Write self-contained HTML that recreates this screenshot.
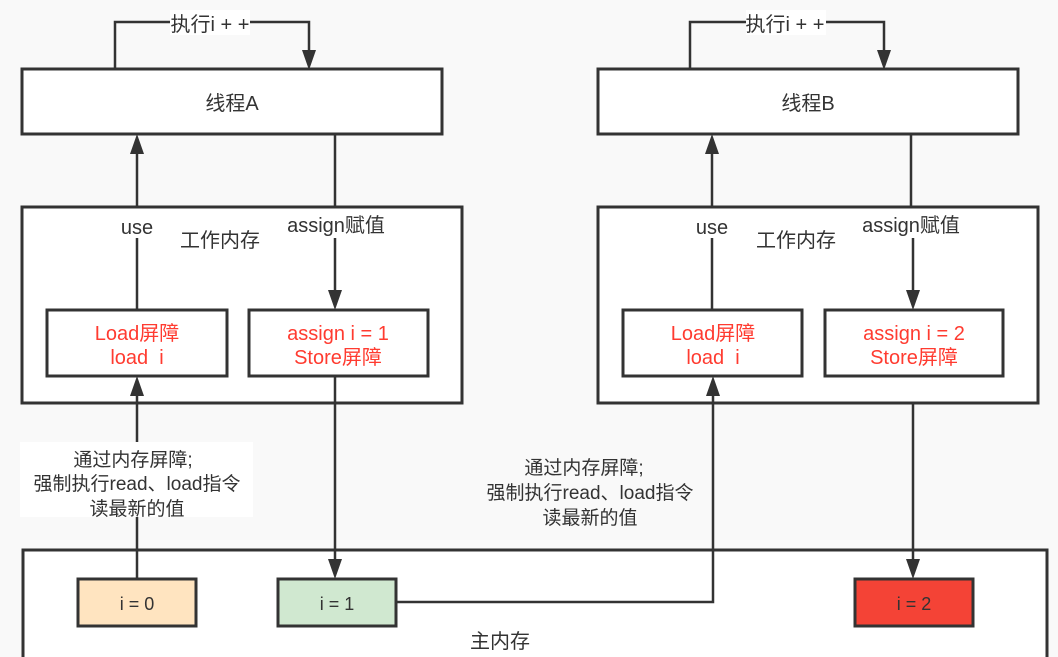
<!DOCTYPE html>
<html><head><meta charset="utf-8"><style>
html,body{margin:0;padding:0;background:#f9f9f9}
svg{display:block}
text{font-family:"Liberation Sans","Noto Sans CJK SC",sans-serif;fill:#333}
.r{fill:#ff3b30}
</style></head><body>
<svg width="1058" height="657" viewBox="0 0 1058 657" xmlns="http://www.w3.org/2000/svg">
<g stroke="#333" stroke-width="3" fill="#fff">
<rect x="23" y="550" width="1024" height="120"/>
<rect x="22" y="69" width="420" height="65"/>
<rect x="598" y="69" width="420" height="65"/>
<rect x="22" y="207" width="440" height="196"/>
<rect x="598" y="207" width="440" height="196"/>
<rect x="47" y="310" width="180" height="66"/>
<rect x="249" y="310" width="179" height="66"/>
<rect x="623" y="310" width="179" height="66"/>
<rect x="825" y="310" width="178" height="66"/>
<rect x="78" y="579" width="118" height="47" fill="#ffe4c0"/>
<rect x="278" y="579" width="118" height="47" fill="#d0e8d0"/>
<rect x="855" y="579" width="118" height="47" fill="#f44336"/>
</g>
<g stroke="#333" stroke-width="2.5" fill="none">
<polyline points="115,69 115,22 309,22 309,56"/>
<polyline points="690,69 690,22 884,22 884,56"/>
<line x1="137" y1="207" x2="137" y2="148"/>
<line x1="137" y1="310" x2="137" y2="238"/>
<line x1="335" y1="134" x2="335" y2="207"/>
<line x1="335" y1="238" x2="335" y2="296"/>
<line x1="712" y1="207" x2="712" y2="148"/>
<line x1="712" y1="310" x2="712" y2="238"/>
<line x1="911" y1="134" x2="911" y2="207"/>
<line x1="913" y1="238" x2="913" y2="296"/>
<line x1="137" y1="579" x2="137" y2="390"/>
<line x1="335" y1="376" x2="335" y2="565"/>
<polyline points="396,602 713,602 713,390"/>
<line x1="913" y1="403" x2="913" y2="565"/>
</g>
<g fill="#333">
<path d="M302,50 L316,50 L309,70 Z"/><path d="M877,50 L891,50 L884,70 Z"/>
<path d="M130,154 L144,154 L137,134 Z"/><path d="M705,154 L719,154 L712,134 Z"/>
<path d="M328,290 L342,290 L335,310 Z"/><path d="M906,290 L920,290 L913,310 Z"/>
<path d="M130,396 L144,396 L137,376 Z"/><path d="M706,396 L720,396 L713,376 Z"/>
<path d="M328,559 L342,559 L335,579 Z"/><path d="M906,559 L920,559 L913,579 Z"/>
</g>
<rect x="170" y="10" width="80" height="25" fill="#fff"/>
<rect x="746" y="10" width="80" height="25" fill="#fff"/>
<rect x="20" y="442" width="233" height="75" fill="#fff"/>
<g font-size="20" text-anchor="middle">
<text x="210" y="31">执行i + +</text>
<text x="785" y="31">执行i + +</text>
<text x="232" y="110">线程A</text>
<text x="808" y="110">线程B</text>
<text x="137" y="234">use</text>
<text x="712" y="234">use</text>
<text x="336" y="232">assign赋值</text>
<text x="911" y="232">assign赋值</text>
<text x="220" y="247">工作内存</text>
<text x="796" y="247">工作内存</text>
<text class="r" x="137" y="340">Load屏障</text>
<text class="r" x="137" y="364">load&#160;&#160;i</text>
<text class="r" x="338" y="340">assign i = 1</text>
<text class="r" x="338" y="364">Store屏障</text>
<text class="r" x="713" y="340">Load屏障</text>
<text class="r" x="713" y="364">load&#160;&#160;i</text>
<text class="r" x="914" y="340">assign i = 2</text>
<text class="r" x="914" y="364">Store屏障</text>
<text x="500" y="648">主内存</text>
</g>
<g font-size="18" text-anchor="middle">
<text x="137" y="610">i = 0</text>
<text x="337" y="610">i = 1</text>
<text x="914" y="610">i = 2</text>
</g>
<g font-size="19" text-anchor="middle">
<text x="133" y="466">通过内存屏障;</text>
<text x="137" y="490">强制执行read、load指令</text>
<text x="137" y="515">读最新的值</text>
<text x="584" y="474">通过内存屏障;</text>
<text x="590" y="499">强制执行read、load指令</text>
<text x="590" y="524">读最新的值</text>
</g>
</svg>
</body></html>
